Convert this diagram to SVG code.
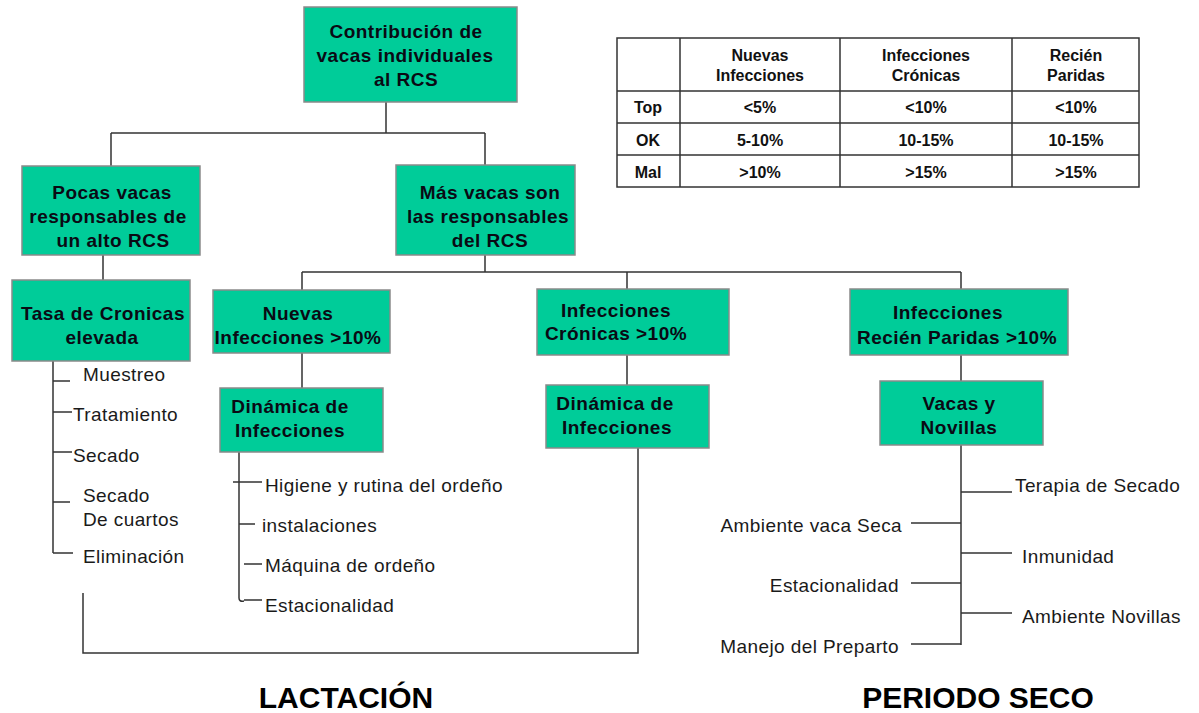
<svg xmlns="http://www.w3.org/2000/svg" width="1199" height="713" viewBox="0 0 1199 713">
<style>
.box{fill:#00CC99;stroke:#8a8a8a;stroke-width:1.5}
.bt{font-family:"Liberation Sans",Arial,sans-serif;font-size:19px;font-weight:bold;fill:#0a0a14;text-anchor:middle;letter-spacing:0.5px}
.pt{font-family:"Liberation Sans",Arial,sans-serif;font-size:19px;fill:#1a1a1a;letter-spacing:0.4px}
.ln{stroke:#333;stroke-width:1.5;fill:none}
.tb{stroke:#333;stroke-width:1.5;fill:none}
.tt{font-family:"Liberation Sans",Arial,sans-serif;font-size:16px;font-weight:bold;fill:#111;text-anchor:middle}
.ft{font-family:"Liberation Sans",Arial,sans-serif;font-size:30px;font-weight:bold;fill:#000;text-anchor:middle}
</style>
<rect width="1199" height="713" fill="#fff"/>

<g id="connectors">
<path class="ln" d="M386,102 V133 M111,133 H485 M111,133 V166 M485,133 V165"/>
<path class="ln" d="M103,255 V280"/>
<path class="ln" d="M485,255 V272 M302,272 H961 M302,272 V290 M627,272 V289 M961,272 V289"/>
<path class="ln" d="M302,353 V388 M627,355 V385 M961,355 V381"/>
<path class="ln" d="M53,361 V553 M53,381 H70 M53,412 H72 M53,452 H72 M53,502 H70 M53,553 H73"/>
<path class="ln" d="M239,452 V598 Q239,602 244,601 M233,482 H262 M239,524 H255 M244,564 H262 M244,600 H262"/>
<path class="ln" d="M83,593 V653 H638 V448"/>
<path class="ln" d="M961,445 V645 M961,492 H1012 M911,523 H961 M961,553 H1012 M911,583 H961 M961,613 H1012 M911,644 H961"/>
</g>

<g id="n-root">
<rect class="box" x="304" y="7" width="213" height="95"/>
<text class="bt" x="406" y="38">Contribución de</text>
<text class="bt" x="405" y="62">vacas individuales</text>
<text class="bt" x="406" y="86">al RCS</text>
</g>
<g id="n-pocas">
<rect class="box" x="22" y="166" width="178" height="89"/>
<text class="bt" x="112" y="199">Pocas vacas</text>
<text class="bt" x="108" y="223">responsables de</text>
<text class="bt" x="113" y="247">un alto RCS</text>
</g>
<g id="n-mas">
<rect class="box" x="396" y="165" width="179" height="90"/>
<text class="bt" x="490" y="199">Más vacas son</text>
<text class="bt" x="488" y="223">las responsables</text>
<text class="bt" x="490" y="247">del RCS</text>
</g>
<g id="n-tasa">
<rect class="box" x="12" y="280" width="178" height="81"/>
<text class="bt" x="103" y="320">Tasa de Cronicas</text>
<text class="bt" x="102" y="344">elevada</text>
</g>
<g id="n-nuevas">
<rect class="box" x="213" y="290" width="177" height="63"/>
<text class="bt" x="298" y="320">Nuevas</text>
<text class="bt" x="298" y="344">Infecciones &gt;10%</text>
</g>
<g id="n-cronicas">
<rect class="box" x="537" y="289" width="192" height="66"/>
<text class="bt" x="616" y="317">Infecciones</text>
<text class="bt" x="616" y="340">Crónicas &gt;10%</text>
</g>
<g id="n-recien">
<rect class="box" x="850" y="289" width="218" height="66"/>
<text class="bt" x="948" y="319">Infecciones</text>
<text class="bt" x="957" y="344">Recién Paridas &gt;10%</text>
</g>
<g id="n-din1">
<rect class="box" x="220" y="388" width="163" height="64"/>
<text class="bt" x="290" y="413">Dinámica de</text>
<text class="bt" x="290" y="437">Infecciones</text>
</g>
<g id="n-din2">
<rect class="box" x="546" y="385" width="163" height="63"/>
<text class="bt" x="615" y="410">Dinámica de</text>
<text class="bt" x="617" y="434">Infecciones</text>
</g>
<g id="n-vacas">
<rect class="box" x="880" y="381" width="163" height="64"/>
<text class="bt" x="959" y="410">Vacas y</text>
<text class="bt" x="959" y="434">Novillas</text>
</g>

<g id="lactancia-items">
<text class="pt" x="83" y="381">Muestreo</text>
<text class="pt" x="73" y="421">Tratamiento</text>
<text class="pt" x="73" y="462">Secado</text>
<text class="pt" x="83" y="502">Secado</text>
<text class="pt" x="83" y="526">De cuartos</text>
<text class="pt" x="83" y="563">Eliminación</text>
<text class="pt" x="265" y="492">Higiene y rutina del ordeño</text>
<text class="pt" x="262" y="532">instalaciones</text>
<text class="pt" x="265" y="572">Máquina de ordeño</text>
<text class="pt" x="265" y="612">Estacionalidad</text>
</g>
<g id="seco-items">
<text class="pt" x="1015" y="492">Terapia de Secado</text>
<text class="pt" x="902" y="532" text-anchor="end">Ambiente vaca Seca</text>
<text class="pt" x="1022" y="563">Inmunidad</text>
<text class="pt" x="899" y="592" text-anchor="end">Estacionalidad</text>
<text class="pt" x="1022" y="623">Ambiente Novillas</text>
<text class="pt" x="899" y="653" text-anchor="end">Manejo del Preparto</text>
</g>

<g id="table">
<rect class="tb" x="617" y="38" width="522" height="149"/>
<path class="tb" d="M680,38 V187 M840,38 V187 M1012,38 V187 M617,91 H1139 M617,123 H1139 M617,155 H1139"/>
<text class="tt" x="760" y="61">Nuevas</text>
<text class="tt" x="760" y="81">Infecciones</text>
<text class="tt" x="926" y="61">Infecciones</text>
<text class="tt" x="926" y="81">Crónicas</text>
<text class="tt" x="1076" y="61">Recién</text>
<text class="tt" x="1076" y="81">Paridas</text>
<text class="tt" x="648" y="113">Top</text>
<text class="tt" x="648" y="146">OK</text>
<text class="tt" x="648" y="178">Mal</text>
<text class="tt" x="760" y="113">&lt;5%</text>
<text class="tt" x="926" y="113">&lt;10%</text>
<text class="tt" x="1076" y="113">&lt;10%</text>
<text class="tt" x="760" y="146">5-10%</text>
<text class="tt" x="926" y="146">10-15%</text>
<text class="tt" x="1076" y="146">10-15%</text>
<text class="tt" x="760" y="178">&gt;10%</text>
<text class="tt" x="926" y="178">&gt;15%</text>
<text class="tt" x="1076" y="178">&gt;15%</text>
</g>

<g id="footer">
<text class="ft" x="346" y="708">LACTACIÓN</text>
<text class="ft" x="978" y="708">PERIODO SECO</text>
</g>
</svg>
